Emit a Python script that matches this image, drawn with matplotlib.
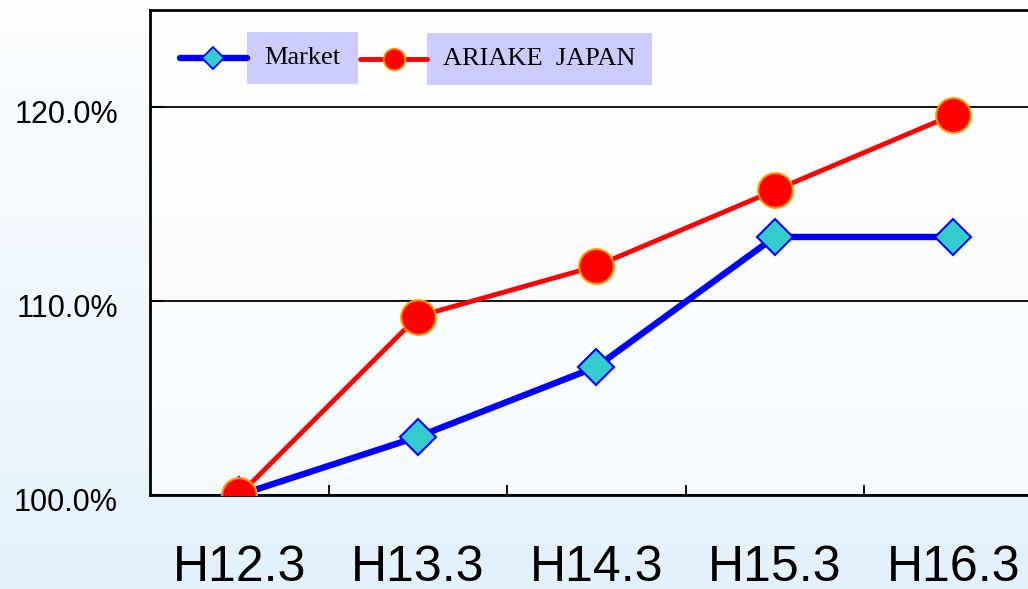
import numpy as np
import matplotlib.pyplot as plt
import matplotlib.transforms as mtransforms
from matplotlib.ticker import FuncFormatter, FixedLocator
from matplotlib.lines import Line2D
from matplotlib.patches import Rectangle

years = ["H12.3", "H13.3", "H14.3", "H15.3", "H16.3"]
market = [100.0, 103.0, 106.6, 113.3, 113.3]
ariake = [100.0, 109.2, 111.8, 115.7, 119.6]

fig = plt.figure(figsize=(10.28, 5.89), dpi=100)
W, H = 1028, 589

# background gradient (white -> light blue)
bg = fig.add_axes([0, 0, 1, 1], zorder=-10)
grad = np.linspace(0, 1, 256).reshape(-1, 1)
top = np.array([0.99, 0.995, 1.0])
bot = np.array([0.89, 0.945, 0.985])
img = top + (bot - top) * grad[..., None]
bg.imshow(img, aspect="auto", extent=[0, 1, 0, 1])
bg.axis("off")

ax = fig.add_axes([150 / W, 94 / H, 892.5 / W, 485 / H])
ax.set_facecolor((1, 1, 1, 0.7))

blue_style = dict(color="#0000FF", lw=4.6, marker="D", ms=18.5,
                  mfc="#33CCCC", mec="#0000FF", mew=1.5)
red_style = dict(color="#FF0000", lw=3.5, marker="o", ms=25,
                 mfc="#FF0000", mec="#FF9900", mew=1.5)

x = np.arange(len(years))
ax.plot(x, market, zorder=3, **blue_style)
ax.plot(x, ariake, zorder=4, **red_style)

ax.set_xlim(-0.5, len(years) - 0.5)
ax.set_ylim(100, 125)
ax.set_yticks([100, 110, 120])
ax.yaxis.set_major_formatter(FuncFormatter(lambda v, p: f"{v:.1f}%"))
ax.yaxis.grid(True, color="black", lw=1.3)
ax.set_axisbelow(True)

ax.set_xticks(x)
ax.set_xticklabels(years)
ax.xaxis.set_minor_locator(FixedLocator(x[:-1] + 0.5))
ax.tick_params(axis="x", which="major", length=0, pad=36, labelsize=36)
ax.tick_params(axis="x", which="minor", direction="in", length=7, width=1.3)
ax.tick_params(axis="y", direction="in", length=9, width=1.5, pad=23, labelsize=22)
shift = mtransforms.ScaledTranslation(0, -5 / 100, fig.dpi_scale_trans)
for t in ax.get_yticklabels():
    t.set_transform(t.get_transform() + shift)
for t in ax.get_xticklabels() + ax.get_yticklabels():
    t.set_fontfamily("Liberation Sans")

for s in ["left", "bottom", "top"]:
    ax.spines[s].set_linewidth(2)
ax.spines["right"].set_visible(False)


# legend drawn by hand (pixel layout, y from top)
def px(xp, yp):
    return xp / W, 1 - yp / H


def legend_entry(x0, x1, box_end, yc, style, msize, label):
    (fx0, fy), (fx1, _) = px(x0, yc), px(x1, yc)
    fig.add_artist(Line2D([fx0, fx1], [fy, fy], color=style["color"],
                          lw=style["lw"], solid_capstyle="round"))
    fig.add_artist(Line2D([(fx0 + fx1) / 2], [fy], marker=style["marker"], ms=msize,
                          mfc=style["mfc"], mec=style["mec"], mew=1.3,
                          linestyle="none"))
    bx, by = px(x1, yc + 26)
    fig.add_artist(Rectangle((bx, by), (box_end - x1) / W, 52 / H,
                             facecolor="#CCCCFF", edgecolor="none"))
    tx, ty = px((x1 + box_end) / 2, yc)
    fig.text(tx, ty, label, ha="center", va="center",
             family="Liberation Serif", fontsize=19)


legend_entry(180, 247, 358, 58, blue_style, 11, "Market")
legend_entry(360, 427, 652, 59, red_style, 15.5, "ARIAKE  JAPAN")

fig.savefig("out.png", dpi=100)
